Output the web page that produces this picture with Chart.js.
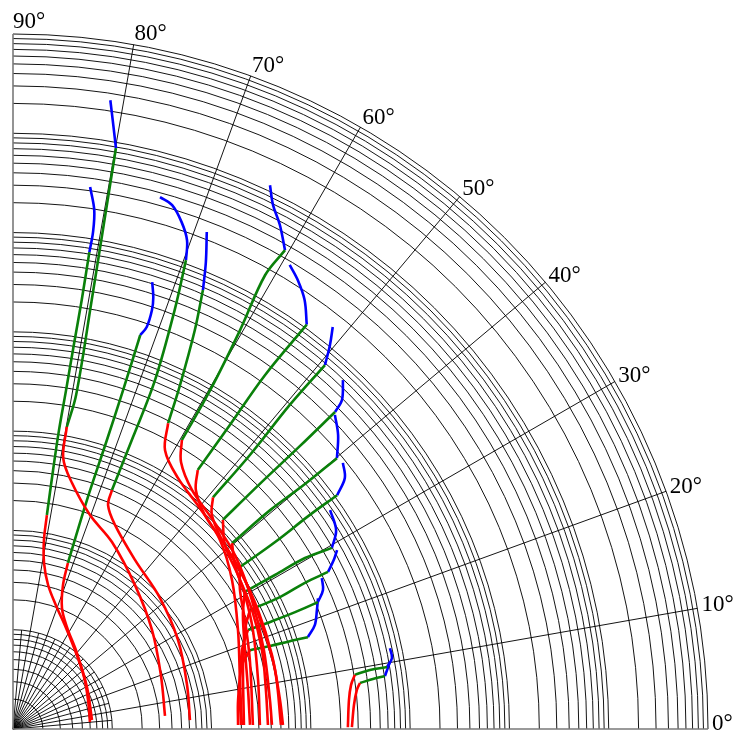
<!DOCTYPE html>
<html>
<head>
<meta charset="utf-8">
<script src="https://cdn.jsdelivr.net/npm/chart.js@4.4.1/dist/chart.umd.min.js"></script>
<style>
  html, body { margin: 0; padding: 0; background: #ffffff; }
  #wrap { width: 735px; height: 731px; }
</style>
</head>
<body>
<div id="wrap"><canvas id="c" width="735" height="731"></canvas></div>
<script>
// Polar plot, log radial axis (1 … 1e7), angle 0°–90°.
// Each trajectory: [angle in degrees, radius] pairs, split into three phases.

const angleTicks = [0, 10, 20, 30, 40, 50, 60, 70, 80, 90];
const radialDecades = [1, 10, 100, 1e3, 1e4, 1e5, 1e6, 1e7];
const radialMax = 1e7;

const redPaths = [
  [[4.9,34.4],[20.05,38.5],[35.5,52.4],[49.7,79.4],[62.1,135],[70.2,195],[76.5,353],[79.5,596],[79.9,1230]],
  [[5.2,6.0],[21.1,6.46],[36.2,7.69],[50.3,9.86],[62.3,14.1],[70.9,20.9],[76.3,31.1],[79.4,50.2],[80.7,84.9],[81.0,152]],
  [[6.5,6.32],[29.6,7.19],[49.9,10.0],[62.1,14.5],[67.95,20.6],[70.85,34.3],[71.7,57.7]],
  [[2.9,60.9],[14.2,64.3],[28.35,77.3],[41.7,96.2],[54.2,126],[63.4,198],[67.0,282],[67.5,403]],
  [[1.0,202],[12.2,218],[23.75,299],[34.2,465],[42.4,665],[49.8,822],[56.7,1060],[61.4,1580],[63.1,2840]],
  [[0.9,406],[6.4,402],[17.5,446],[28.4,543],[38.1,693],[46.3,819],[53.2,1020],[57.8,1500],[59.7,2350]],
  [[0.9,500],[12.7,507],[22.7,521],[32.7,597],[40.95,671],[48.1,785],[52.55,1070],[54.5,1600]],
  [[0.85,524],[6.2,507],[15.9,516],[25.9,553],[35.0,617],[42.1,689],[47.1,876],[49.2,1210]],
  [[0.9,370],[8.8,378],[17.6,427],[26.5,489],[34.4,557],[40.95,671],[44.9,964]],
  [[0.9,307],[11.3,329],[22.4,411],[30.0,499],[36.45,601],[40.3,782]],
  [[0.95,261],[16.2,305],[25.2,381],[31.5,480],[35.5,644]],
  [[1.0,244],[9.4,251],[18.8,294],[26.4,385],[30.6,516]],
  [[1.0,212],[15.55,254],[23.1,347],[26.7,469]],
  [[1.0,198],[9.75,208],[19.0,275],[22.85,370]],
  [[1.0,185],[7.3,193],[15.6,248],[18.4,327]],
  [[0.3,2360],[4.9,2490],[7.4,2710],[9.0,3060]],
  [[0.3,2590],[4.0,2770],[6.5,3060],[7.55,3350]]
];

const greenPaths = [
  [[79.9,1230],[79.3,2650],[79.6,24700],[79.8,144000],[79.95,875000]],
  [[81.0,152],[81.2,436],[81.25,1110],[81.1,2850],[81.0,8230],[80.9,23800],[80.9,73100]],
  [[71.7,57.7],[72.1,265],[72.0,1150],[72.0,3880],[72.1,14800]],
  [[67.5,403],[67.65,1510],[67.85,6220],[68.9,33300],[69.75,108000]],
  [[63.1,2840],[64.1,7100],[65.5,26100],[66.6,65600]],
  [[59.7,2350],[59.8,8870],[60.35,42000],[60.95,169000],[60.4,352000]],
  [[54.5,1600],[54.5,5770],[54.55,23700],[54.0,108000]],
  [[49.2,1210],[49.15,4450],[49.5,19600],[49.4,67300]],
  [[44.9,964],[44.8,3190],[44.6,11400],[44.55,35600]],
  [[40.3,782],[40.4,2520],[40.0,6900],[39.9,17900]],
  [[35.5,644],[35.5,1750],[35.8,4860],[35.8,10600]],
  [[30.6,516],[30.45,1150],[30.35,2560],[29.6,4940]],
  [[26.7,469],[26.3,998],[26.6,1940],[26.5,3510]],
  [[22.85,370],[22.6,670],[22.5,1190],[22.6,2120]],
  [[18.4,327],[17.9,525],[17.6,843],[17.3,1290]],
  [[9.0,3060],[9.4,4400],[9.4,6580]],
  [[7.55,3350],[7.9,4570],[8.1,6080]]
];

const bluePaths = [
  [[79.95,875000],[80.7,1.64e6],[81.2,2.56e6]],
  [[80.9,73100],[80.85,117000],[81.1,195000],[81.9,326000]],
  [[72.1,14800],[71.6,18500],[71.65,27900],[72.0,37400],[72.7,51800]],
  [[69.75,108000],[70.4,168000],[71.6,240000],[73.1,327000],[74.55,361000]],
  [[66.6,65600],[67.55,122000],[68.7,236000]],
  [[60.4,352000],[62.1,555000],[63.6,778000],[64.7,1.14e6]],
  [[54.0,108000],[55.8,168000],[57.6,226000],[59.2,277000]],
  [[49.4,67300],[50.45,103000],[51.5,149000]],
  [[44.55,35600],[45.0,48500],[46.6,68700]],
  [[39.9,17900],[42.1,25900],[44.3,33900]],
  [[35.8,10600],[37.1,15500],[38.9,18600]],
  [[29.6,4940],[31.6,6620],[34.6,7590]],
  [[26.5,3510],[27.8,4500],[28.9,5350]],
  [[22.6,2120],[24.15,2640],[26.05,2900]],
  [[17.3,1290],[19.0,1640],[21.4,1940],[23.2,2200]],
  [[9.4,6580],[10.6,7640],[12.1,7640]],
  [[8.1,6080],[10.1,7180]]
];

// polar (deg, radius) -> cartesian in decades of log10(radius)
const DEG = Math.PI / 180;
function toXY(pt) {
  const L = Math.log10(pt[1]);
  return { x: L * Math.cos(pt[0] * DEG), y: L * Math.sin(pt[0] * DEG) };
}
const maxL = Math.log10(radialMax);

function pathSets(paths, color) {
  return paths.map(p => ({
    data: p.map(toXY),
    borderColor: color,
    backgroundColor: color,
    borderWidth: 2.6,
    pointRadius: 0,
    showLine: true,
    fill: false,
    tension: 0.35,
    clip: false
  }));
}

// polar grid: log circles and spokes, drawn under the trajectories
const polarGrid = {
  id: 'polarGrid',
  beforeDatasetsDraw(chart) {
    const { ctx, scales: { x, y } } = chart;
    const cx = x.getPixelForValue(0), cy = y.getPixelForValue(0);
    const unit = x.getPixelForValue(1) - cx;
    ctx.save();
    ctx.strokeStyle = 'rgba(0,0,0,0.92)';
    ctx.lineWidth = 1;
    for (let d = 0; d < radialDecades.length; d++) {
      const base = radialDecades[d];
      const steps = base >= radialMax ? [1] : [1, 2, 3, 4, 5, 6, 7, 8, 9];
      for (const k of steps) {
        const L = Math.log10(base * k);
        if (L <= 0) continue;
        ctx.beginPath();
        ctx.arc(cx, cy, L * unit, -Math.PI / 2, 0);
        ctx.stroke();
      }
    }
    // fine spokes in the innermost decade
    for (let a = 5; a < 90; a += 10) {
      ctx.beginPath();
      ctx.moveTo(cx, cy);
      ctx.lineTo(cx + unit * Math.cos(a * DEG), cy - unit * Math.sin(a * DEG));
      ctx.stroke();
    }
    // labelled spokes
    for (const a of angleTicks) {
      if (a === 0 || a === 90) continue;
      ctx.beginPath();
      ctx.moveTo(cx, cy);
      ctx.lineTo(cx + maxL * unit * Math.cos(a * DEG), cy - maxL * unit * Math.sin(a * DEG));
      ctx.stroke();
    }
    ctx.strokeStyle = '#7a7a7a';
    ctx.lineWidth = 1.6;
    ctx.beginPath();
    ctx.moveTo(cx, cy - maxL * unit);
    ctx.lineTo(cx, cy);
    ctx.lineTo(cx + maxL * unit, cy);
    ctx.stroke();
    ctx.restore();
  },
  afterDraw(chart) {
    const { ctx, scales: { x, y } } = chart;
    const cx = x.getPixelForValue(0), cy = y.getPixelForValue(0);
    const R = (x.getPixelForValue(1) - cx) * maxL;
    ctx.save();
    ctx.fillStyle = '#000000';
    ctx.font = '23px "Liberation Serif", "DejaVu Serif", serif';
    ctx.textAlign = 'left';
    ctx.textBaseline = 'alphabetic';
    for (const a of angleTicks) {
      const px = cx + R * Math.cos(a * DEG);
      const py = cy - R * Math.sin(a * DEG);
      const tx = px + 4 * Math.cos(a * DEG);
      const ty = Math.min(py + 4 - 10 * a / 90, chart.height - 1);
      ctx.fillText(a + '\u00B0', tx, ty);
    }
    ctx.restore();
  }
};

new Chart(document.getElementById('c'), {
  type: 'scatter',
  data: {
    datasets: [
      ...pathSets(redPaths, '#ff0000'),
      ...pathSets(greenPaths, '#0a800a'),
      ...pathSets(bluePaths, '#0000ff')
    ]
  },
  options: {
    responsive: false,
    animation: false,
    devicePixelRatio: 1,
    layout: { padding: { left: 13, right: 27, top: 34, bottom: 2 } },
    scales: {
      x: { type: 'linear', min: 0, max: maxL, display: false },
      y: { type: 'linear', min: 0, max: maxL, display: false }
    },
    plugins: { legend: { display: false }, tooltip: { enabled: false } },
    elements: { line: { capBezierPoints: true } }
  },
  plugins: [polarGrid]
});
</script>
</body>
</html>
